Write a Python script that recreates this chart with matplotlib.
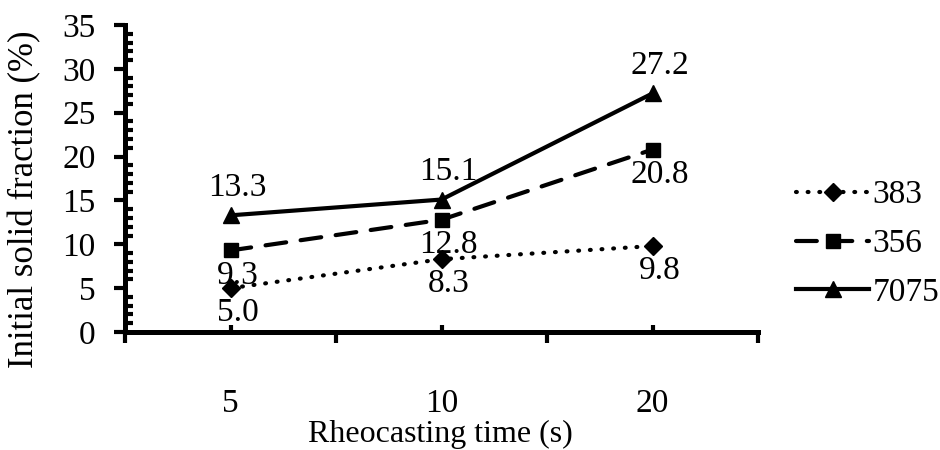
import matplotlib
matplotlib.use("Agg")
import matplotlib.pyplot as plt
from matplotlib.ticker import FixedLocator, MultipleLocator

plt.rcParams['font.family'] = ['Liberation Serif', 'DejaVu Serif']

categories = ["5", "10", "20"]
series_names = ["383", "356", "7075"]
vals_383 = [5.0, 8.3, 9.8]
vals_356 = [9.3, 12.8, 20.8]
vals_7075 = [13.3, 15.1, 27.2]

FS = 24
LW = 3.0

fig = plt.figure(figsize=(9.4, 4.5), dpi=100)
ax = fig.add_axes([125/940, 1-332/450, 633/940, 307/450])

x = list(range(len(categories)))

l1, = ax.plot(x, vals_383, color='black', lw=LW, linestyle=(0, (0.2, 2.6)),
              dash_capstyle='round', marker='D', markersize=9.5, label=series_names[0])
l2, = ax.plot(x, vals_356, color='black', lw=LW, linestyle=(0, (5.0, 3.5)),
              dash_capstyle='round', marker='s', markersize=10, label=series_names[1])
l3, = ax.plot(x, vals_7075, color='black', lw=LW, linestyle='-',
              marker='^', markersize=11.5, label=series_names[2])

# value labels: 383 and 356 below their points, 7075 above
for xi, v in zip(x, vals_383):
    ax.annotate(f"{v:.1f}", (xi, v), xytext=(5, -18), textcoords='offset points',
                ha='center', va='center', fontsize=FS)
for xi, v in zip(x, vals_356):
    ax.annotate(f"{v:.1f}", (xi, v), xytext=(5, -18), textcoords='offset points',
                ha='center', va='center', fontsize=FS)
for xi, v in zip(x, vals_7075):
    ax.annotate(f"{v:.1f}", (xi, v), xytext=(5, 20), textcoords='offset points',
                ha='center', va='center', fontsize=FS)

ax.set_xlim(-0.5, len(categories) - 0.5)
ax.set_ylim(0, 35)

# x axis: labelled category centres with short inward ticks, boundaries with outward ticks
ax.xaxis.set_major_locator(FixedLocator(x))
ax.set_xticklabels(categories)
ax.xaxis.set_minor_locator(FixedLocator([i - 0.5 for i in range(len(categories) + 1)]))
ax.tick_params(axis='x', which='major', direction='in', length=5, width=LW,
               pad=41, labelsize=FS)
ax.tick_params(axis='x', which='minor', direction='out', length=8, width=LW)

# y axis: majors every 5 outward, minors every 1 inward
ax.yaxis.set_major_locator(MultipleLocator(5))
ax.yaxis.set_minor_locator(MultipleLocator(1))
ax.tick_params(axis='y', which='major', direction='out', length=8, width=LW,
               pad=13, labelsize=FS)
ax.tick_params(axis='y', which='minor', direction='in', length=6, width=LW)

for side in ('top', 'right'):
    ax.spines[side].set_visible(False)
for side in ('left', 'bottom'):
    ax.spines[side].set_linewidth(LW * 1.2)

fig.text(25/940, 1-199/450, "Initial solid fraction (%)", rotation=90,
         ha='center', va='center', fontsize=FS + 1)
fig.text(440/940, 1/450, "Rheocasting time (s)", ha='center', va='bottom',
         fontsize=FS - 1)

fig.legend(handles=[l1, l2, l3], loc='center left', bbox_to_anchor=(796/940, 1-244/450),
           frameon=False, fontsize=FS, numpoints=1, handlelength=2.2,
           handletextpad=0.1, labelspacing=0.55, borderpad=0, borderaxespad=0)

fig.savefig("out.png", dpi=100)
